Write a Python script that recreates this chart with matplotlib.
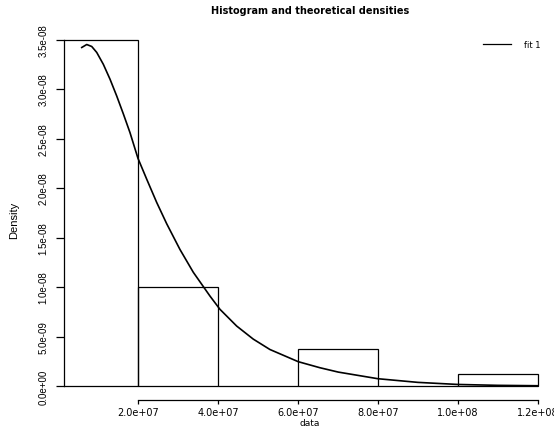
import matplotlib
matplotlib.use("Agg")
import matplotlib.pyplot as plt
from matplotlib import font_manager
import numpy as np

# Histogram of the observed data (density scale)
bin_edges = [0.0, 2.0e7, 4.0e7, 6.0e7, 8.0e7, 1.0e8, 1.2e8]
bin_density = [3.5e-8, 1.0e-8, 0.0, 3.75e-9, 0.0, 1.25e-9]

# Fitted theoretical density ("fit 1"), x in millions, density in 1e-9
fit_x_mln = [5.93, 7.18, 8.43, 9.68, 11.33, 13.0, 14.68, 16.33, 18.0, 20.0,
             22.18, 24.68, 27.18, 30.5, 33.83, 38.0, 40.5, 44.68, 48.83, 53.0,
             60.08, 65.5, 70.08, 80.0, 90.0, 100.0, 110.0, 120.0]
fit_y_nano = [34.2, 34.5, 34.3, 33.7, 32.5, 31.0, 29.3, 27.5, 25.6, 23.0,
              20.9, 18.55, 16.4, 13.8, 11.5, 9.1, 7.76, 6.07, 4.75, 3.7,
              2.47, 1.86, 1.42, 0.75, 0.38, 0.17, 0.08, 0.04]

x_ticks = [2.0e7, 4.0e7, 6.0e7, 8.0e7, 1.0e8, 1.2e8]
x_tick_labels = ["2.0e+07", "4.0e+07", "6.0e+07", "8.0e+07", "1.0e+08", "1.2e+08"]
y_ticks = [0.0, 5.0e-9, 1.0e-8, 1.5e-8, 2.0e-8, 2.5e-8, 3.0e-8, 3.5e-8]
y_tick_labels = ["0.0e+00", "5.0e-09", "1.0e-08", "1.5e-08", "2.0e-08",
                 "2.5e-08", "3.0e-08", "3.5e-08"]

available = {f.name for f in font_manager.fontManager.ttflist}
narrow = "Liberation Sans Narrow" if "Liberation Sans Narrow" in available else "Liberation Sans"

W, H = 554, 431
fig = plt.figure(figsize=(W / 100, H / 100), dpi=100)
fig.patch.set_facecolor("white")

# plot region in pixels
left_px, right_px, top_px, bottom_px = 63.5, 556.0, 26.7, 401.0
ax = fig.add_axes([left_px / W, 1 - bottom_px / H,
                   (right_px - left_px) / W, (bottom_px - top_px) / H])

fit_x = np.array(fit_x_mln) * 1e6
fit_y = np.array(fit_y_nano) * 1e-9

# R-style range: data range extended by 4 %
xmin, xmax = fit_x[0], fit_x[-1]
xr = xmax - xmin
ax.set_xlim(xmin - 0.04 * xr, xmax + 0.04 * xr)
ymax = max(bin_density)
ax.set_ylim(-0.04 * ymax, ymax * 1.04)

widths = np.diff(bin_edges)
ax.bar(bin_edges[:-1], bin_density, width=widths, align="edge",
       facecolor="none", edgecolor="black", linewidth=0.9)

ax.plot(fit_x, fit_y, color="black", linewidth=1.2, label="fit 1")

for s in ["top", "right"]:
    ax.spines[s].set_visible(False)
ax.spines["left"].set_bounds(0.0, 3.5e-8)
ax.spines["bottom"].set_bounds(2.0e7, 1.2e8)
for s in ["left", "bottom"]:
    ax.spines[s].set_linewidth(0.9)

ax.set_xticks(x_ticks)
ax.set_xticklabels(x_tick_labels, fontsize=7, family="DejaVu Sans")
ax.set_yticks(y_ticks)
ax.set_yticklabels(y_tick_labels, fontsize=7, family=narrow,
                   rotation=90, va="center")
ax.tick_params(axis="x", length=3, width=0.9, pad=2)
ax.tick_params(axis="y", length=5.8, width=0.9, pad=5)

center_px = (left_px + right_px) / 2
fig.text(center_px / W, 1 - 11 / H, "Histogram and theoretical densities",
         ha="center", va="center", fontsize=7, fontweight="bold",
         family="DejaVu Sans")
fig.text(center_px / W, 1 - 424 / H, "data", ha="center", va="center",
         fontsize=6.5, family="DejaVu Sans")
fig.text(14 / W, 1 - 220 / H, "Density", ha="center", va="center",
         rotation=90, fontsize=8, family=narrow)

leg = ax.legend(loc="center left", bbox_to_anchor=(483 / W, 1 - 45 / H),
                bbox_transform=fig.transFigure, frameon=False,
                prop={"family": "DejaVu Sans", "size": 6},
                handlelength=3.3, handletextpad=1.6, borderpad=0,
                borderaxespad=0)
for line in leg.get_lines():
    line.set_linewidth(0.9)

fig.savefig("out.png", dpi=100)
